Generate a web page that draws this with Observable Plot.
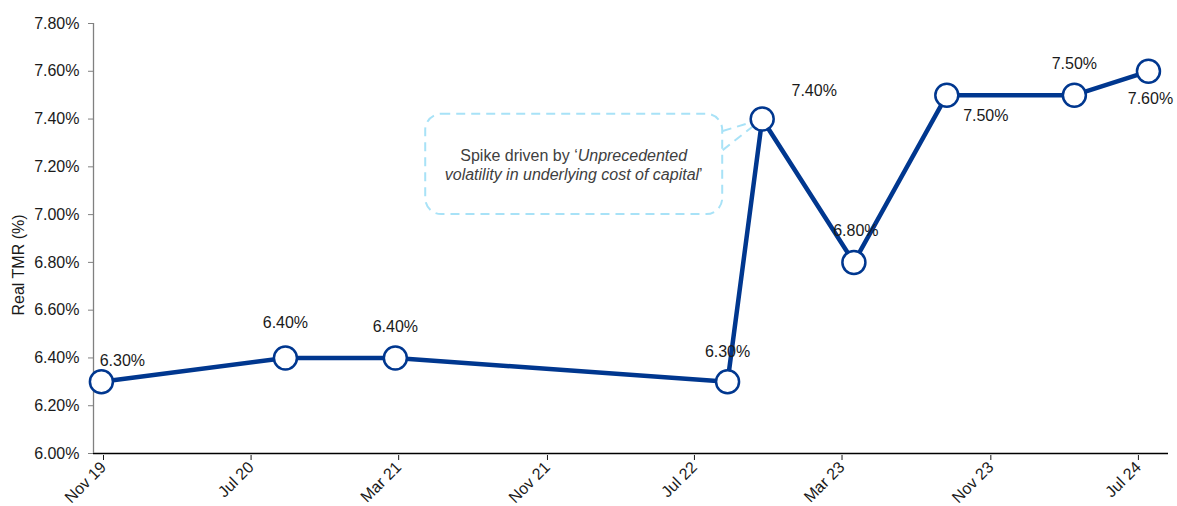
<!DOCTYPE html>
<html><head><meta charset="utf-8">
<script src="https://cdn.jsdelivr.net/npm/d3@7"></script>
<script src="https://cdn.jsdelivr.net/npm/@observablehq/plot@0.6"></script>
<style>body{margin:0;background:#fff;}svg{display:block}</style>
</head><body><div id="chart"></div>
<script>
// ---- data ----
const dates = ["2019-11-14","2020-09-12","2021-03-12","2022-09-10","2022-11-06","2023-04-06","2023-09-06","2024-04-03","2024-08-03"];
const values = [6.3, 6.4, 6.4, 6.3, 7.4, 6.8, 7.5, 7.5, 7.6];
const tickDates = ["2019-11-01","2020-07-01","2021-03-01","2021-11-01","2022-07-01","2023-03-01","2023-11-01","2024-07-01"];
const yTicks = [6.0, 6.2, 6.4, 6.6, 6.8, 7.0, 7.2, 7.4, 7.6, 7.8];
const yLabel = "Real TMR (%)";
const noteBoxX = ["2021-05-01", "2022-09-02"];
const noteBoxY = [7.0, 7.42];
const notePointer = [7.35, 7.27];
const noteLine1 = ["Spike driven by \u2018", "Unprecedented"];
const noteLine2 = ["volatility in underlying cost of capital", "\u2019"];

// ---- styles ----
const blue = "#00378f";
const labelOffsets = [[21,-21],[0,-35],[0,-31],[0,-30],[52,-28],[2,-32],[39,21],[0,-31],[2,28]];
const font = "'Liberation Sans', Arial, sans-serif";
const fs = 16;

const data = dates.map((d, i) => ({date: new Date(d), value: values[i]}));
const parse = s => new Date(s);
const fmtMonth = d3.utcFormat("%b %y");

const plot = Plot.plot({
  width: 1177,
  height: 506,
  marginLeft: 93,
  marginRight: 9,
  marginTop: 23,
  marginBottom: 53,
  style: {fontFamily: font, fontSize: fs + "px", color: "#1a1a1a", background: "#fff"},
  x: {type: "utc", domain: [parse("2019-11-01"), parse("2024-09-05")]},
  y: {domain: [6.0, 7.8]},
  marks: [
    Plot.ruleY([6.0], {stroke: "#000", strokeWidth: 1.3}),
    Plot.ruleX([parse("2019-11-01")], {stroke: "#808080", strokeWidth: 1.3}),
    Plot.axisY({ticks: yTicks, tickFormat: d => d.toFixed(2) + "%", tickSize: 5, tickPadding: 9, label: null, stroke: "#808080", fontSize: fs}),
    Plot.axisX({ticks: tickDates.map(parse), tickFormat: fmtMonth, tickSize: 5, tickRotate: -45, tickPadding: 4, label: null, fontSize: fs, textStroke: "none", dx: 10, dy: 2}),
    Plot.rect([0], {x1: () => parse(noteBoxX[0]), x2: () => parse(noteBoxX[1]), y1: () => noteBoxY[0], y2: () => noteBoxY[1],
      rx: 16, fill: "none", stroke: "#a8e2f7", strokeWidth: 2, strokeDasharray: "9,6"}),
    Plot.link(notePointer, {x1: () => parse(noteBoxX[1]), y1: d => d, x2: () => data[4].date, y2: () => data[4].value,
      stroke: "#a8e2f7", strokeWidth: 2, strokeDasharray: "9,6"}),
    Plot.line(data, {x: "date", y: "value", stroke: blue, strokeWidth: 4.5}),
    Plot.dot(data, {x: "date", y: "value", r: 11.5, fill: "#fff", stroke: blue, strokeWidth: 2.5}),
    ...data.map((d, i) => Plot.text([d], {x: "date", y: "value", text: d => d.value.toFixed(2) + "%",
      dx: labelOffsets[i][0], dy: labelOffsets[i][1], fontSize: fs, fill: "#1a1a1a"}))
  ]
});

document.getElementById("chart").appendChild(plot);

// annotation text and y label, placed through the plot's scales
const svg = d3.select(plot);
const sx = plot.scale("x"), sy = plot.scale("y");
const cx = (sx.apply(parse(noteBoxX[0])) + sx.apply(parse(noteBoxX[1]))) / 2;
const cy = (sy.apply(noteBoxY[0]) + sy.apply(noteBoxY[1])) / 2;
const note = svg.append("text").attr("text-anchor", "middle").attr("font-family", font).attr("font-size", fs).attr("fill", "#404040");
const t1 = note.append("tspan").attr("x", cx).attr("y", cy - 3);
t1.append("tspan").text(noteLine1[0]);
t1.append("tspan").attr("font-style", "italic").text(noteLine1[1]);
const t2 = note.append("tspan").attr("x", cx).attr("y", cy + 16);
t2.append("tspan").attr("font-style", "italic").text(noteLine2[0]);
t2.append("tspan").text(noteLine2[1]);

svg.append("text").attr("transform", `translate(24, ${(sy.apply(6.0) + sy.apply(7.8)) / 2 + 27}) rotate(-90)`)
  .attr("text-anchor", "middle").attr("font-family", font).attr("font-size", fs).attr("fill", "#1a1a1a").text(yLabel);
</script></body></html>
